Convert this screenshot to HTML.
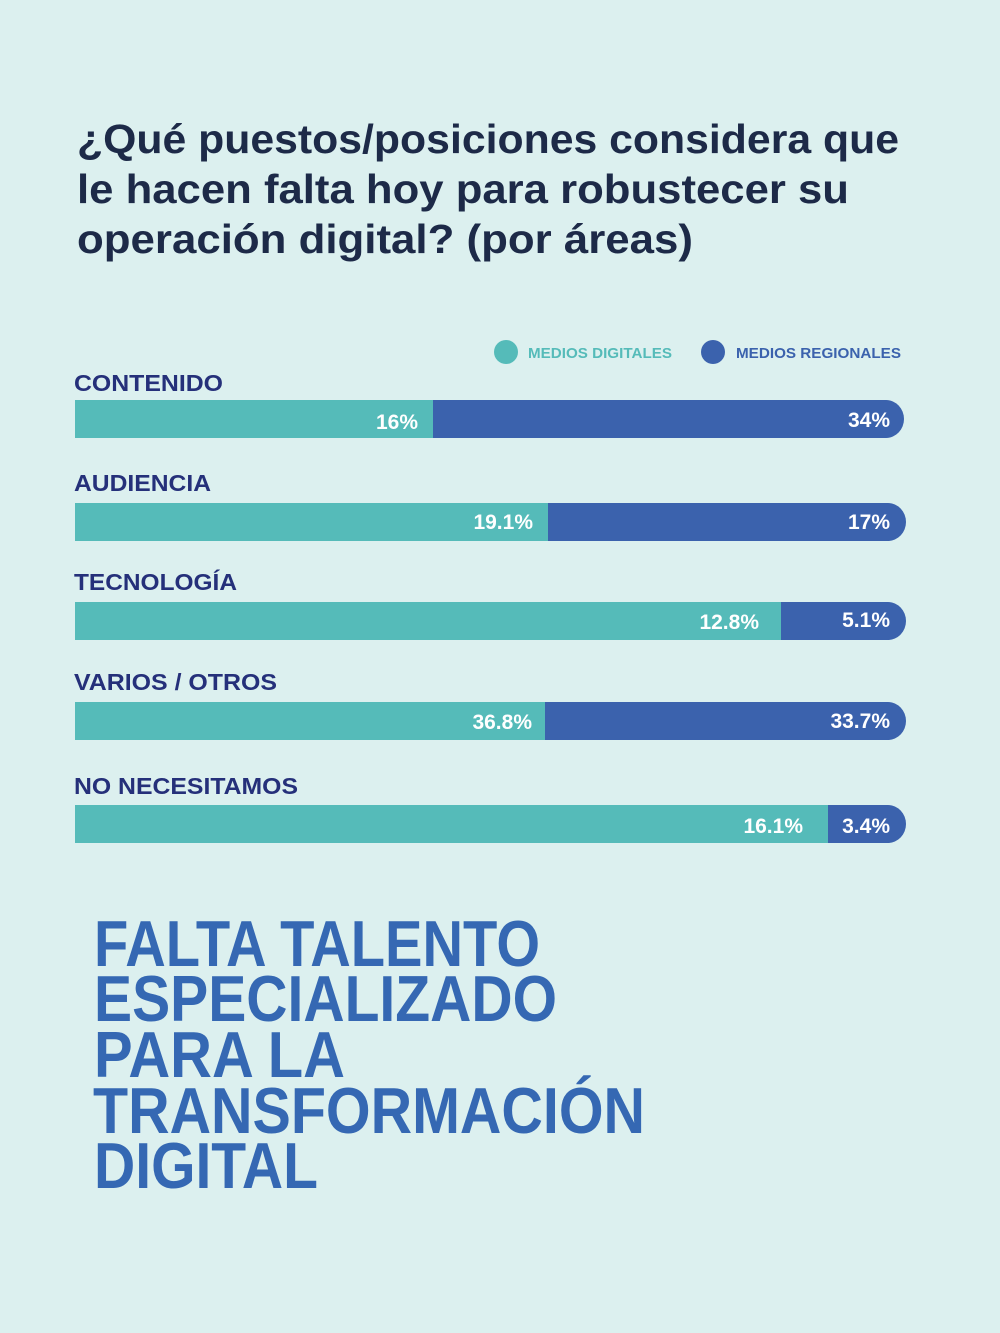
<!DOCTYPE html>
<html><head><meta charset="utf-8"><style>
html,body{margin:0;padding:0;background:#dcf0ef;}
svg{display:block}
text{font-family:"Liberation Sans",sans-serif;font-weight:bold}
</style></head><body>
<svg width="1000" height="1333" viewBox="0 0 1000 1333" xmlns="http://www.w3.org/2000/svg">
<rect width="1000" height="1333" fill="#dcf0ef"/>
<g fill="#1d2a48" font-size="41">
<text x="77" y="153" textLength="822" lengthAdjust="spacingAndGlyphs">¿Qué puestos/posiciones considera que</text>
<text x="77" y="203" textLength="772" lengthAdjust="spacingAndGlyphs">le hacen falta hoy para robustecer su</text>
<text x="77" y="253" textLength="616" lengthAdjust="spacingAndGlyphs">operación digital? (por áreas)</text>
</g>
<circle cx="506" cy="352" r="12" fill="#55bbb9"/>
<text x="528" y="358" font-size="15" fill="#55bbb9" textLength="144" lengthAdjust="spacingAndGlyphs">MEDIOS DIGITALES</text>
<circle cx="713" cy="352" r="12" fill="#3b62ad"/>
<text x="736" y="358" font-size="15" fill="#3b62ad" textLength="165" lengthAdjust="spacingAndGlyphs">MEDIOS REGIONALES</text>
<g font-size="23" fill="#25307a">
<text x="74" y="391" textLength="149" lengthAdjust="spacingAndGlyphs">CONTENIDO</text>
<text x="74" y="491" textLength="137" lengthAdjust="spacingAndGlyphs">AUDIENCIA</text>
<text x="74" y="590" textLength="163" lengthAdjust="spacingAndGlyphs">TECNOLOGÍA</text>
<text x="74" y="690" textLength="203" lengthAdjust="spacingAndGlyphs">VARIOS / OTROS</text>
<text x="74" y="794" textLength="224" lengthAdjust="spacingAndGlyphs">NO NECESITAMOS</text>
</g>
<g>
<path d="M75 400 H886 a18 19 0 0 1 0 38 H75 Z" fill="#3b62ad"/><rect x="75" y="400" width="358" height="38" fill="#55bbb9"/>
<path d="M75 503 H888 a18 19 0 0 1 0 38 H75 Z" fill="#3b62ad"/><rect x="75" y="503" width="473" height="38" fill="#55bbb9"/>
<path d="M75 602 H888 a18 19 0 0 1 0 38 H75 Z" fill="#3b62ad"/><rect x="75" y="602" width="706" height="38" fill="#55bbb9"/>
<path d="M75 702 H888 a18 19 0 0 1 0 38 H75 Z" fill="#3b62ad"/><rect x="75" y="702" width="470" height="38" fill="#55bbb9"/>
<path d="M75 805 H888 a18 19 0 0 1 0 38 H75 Z" fill="#3b62ad"/><rect x="75" y="805" width="753" height="38" fill="#55bbb9"/>
</g>
<g font-size="21" fill="#ffffff" text-anchor="end" font-weight="normal">
<text x="418" y="429">16%</text><text x="890" y="427">34%</text>
<text x="533" y="529">19.1%</text><text x="890" y="529">17%</text>
<text x="759" y="629">12.8%</text><text x="890" y="627">5.1%</text>
<text x="532" y="729">36.8%</text><text x="890" y="728">33.7%</text>
<text x="803" y="833">16.1%</text><text x="890" y="833">3.4%</text>
</g>
<g font-size="65" fill="#3568b3">
<text x="94" y="966" textLength="446" lengthAdjust="spacingAndGlyphs">FALTA TALENTO</text>
<text x="94" y="1021" textLength="463" lengthAdjust="spacingAndGlyphs">ESPECIALIZADO</text>
<text x="94" y="1077" textLength="251" lengthAdjust="spacingAndGlyphs">PARA LA</text>
<text x="93" y="1133" textLength="552" lengthAdjust="spacingAndGlyphs">TRANSFORMACIÓN</text>
<text x="94" y="1188" textLength="224" lengthAdjust="spacingAndGlyphs">DIGITAL</text>
</g>
</svg>
</body></html>
